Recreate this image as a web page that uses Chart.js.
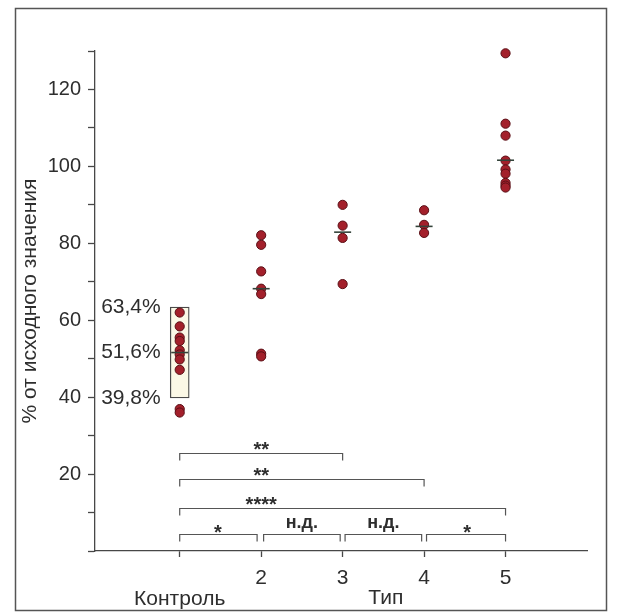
<!DOCTYPE html>
<html>
<head>
<meta charset="utf-8">
<script src="https://cdn.jsdelivr.net/npm/chart.js@4"></script>
<style>
  html, body { margin: 0; padding: 0; background: #fff; }
</style>
</head>
<body>
<canvas id="chart" width="621" height="612"></canvas>
<script>
// group positions and measured values (% of initial value)
const groupX = [1, 2, 3, 4, 5]
const control = [62.0, 58.4, 55.5, 54.6, 52.2, 51.1, 49.8, 47.1, 36.9, 36.0]
const type2 = [82.1, 79.6, 72.7, 68.2, 66.8, 51.3, 50.6]
const type3 = [90.0, 84.6, 81.4, 69.4]
const type4 = [88.6, 84.8, 82.7]
const type5 = [129.4, 111.1, 108.0, 101.5, 99.2, 98.1, 95.7, 95.0, 94.5]
const medians = [51.6, 68.2, 82.9, 84.4, 101.6]

// control range box and its labels
const controlBox = [39.8, 63.4]
const boxLabels = ['63,4%', '51,6%', '39,8%']
const boxLabelValues = [63.4, 51.6, 39.8]

const xTickValues = [1, 2, 3, 4, 5]
const xTickLabels = [['', 'Контроль'], '2', '3', '4', '5']
const yTickLabels = [20, 40, 60, 80, 100, 120]
const xTitle = 'Тип'
const xTitleAt = 3.53

// significance brackets
const bracketFrom = [1, 1, 1, 1, 2.03, 3.03, 4.03]
const bracketTo = [3, 4, 5, 1.95, 2.97, 3.97, 5]
const bracketLevel = [25.5, 18.6, 11.1, 4.4, 4.4, 4.4, 4.4]
const bracketText = ['**', '**', '****', '*', 'н.д.', 'н.д.', '*']
const bracketTextX = [2, 2, 2, 1.47, 2.5, 3.5, 4.53]

const font = '"Liberation Sans", Arial, sans-serif'
const ink = '#2e2e2e'
const lineCol = '#474747'

Chart.defaults.font.family = font

const groups = [control, type2, type3, type4, type5]
const points = []
groups.forEach((vals, i) => {
    for (let v of vals) points.push({x: groupX[i], y: v})
})

const extras = {
    id: 'extras',
    afterDatasetsDraw(chart) {
        const ctx = chart.ctx
        const x = chart.scales.x
        const y = chart.scales.y
        ctx.save()

        // labels left of the control box
        ctx.fillStyle = ink
        ctx.font = '21px ' + font
        ctx.textAlign = 'right'
        ctx.textBaseline = 'middle'
        const lx = x.getPixelForValue(1) - 19
        boxLabels.forEach((t, i) => ctx.fillText(t, lx, y.getPixelForValue(boxLabelValues[i])))

        // brackets
        ctx.strokeStyle = '#555'
        ctx.lineWidth = 1.2
        ctx.textAlign = 'center'
        ctx.textBaseline = 'alphabetic'
        for (let i = 0; i < bracketFrom.length; i++) {
            const x0 = x.getPixelForValue(bracketFrom[i])
            const x1 = x.getPixelForValue(bracketTo[i])
            const yy = Math.round(y.getPixelForValue(bracketLevel[i])) + 0.5
            ctx.beginPath()
            ctx.moveTo(x0, yy + 7)
            ctx.lineTo(x0, yy)
            ctx.lineTo(x1, yy)
            ctx.lineTo(x1, yy + 7)
            ctx.stroke()
            const tx = x.getPixelForValue(bracketTextX[i])
            if (bracketText[i].includes('*')) {
                ctx.font = 'bold 20px ' + font
                ctx.fillText(bracketText[i], tx, yy + (i < 3 ? 2 : 4))
            } else {
                ctx.font = 'bold 18px ' + font
                ctx.fillText(bracketText[i], tx, yy - 7)
            }
        }

        // axis title
        ctx.font = '21px ' + font
        ctx.textBaseline = 'middle'
        ctx.fillText(xTitle, x.getPixelForValue(xTitleAt), chart.chartArea.bottom + 47)

        // frame
        ctx.strokeStyle = '#555'
        ctx.lineWidth = 1.5
        ctx.strokeRect(15.5, 8.5, 591, 602)
        ctx.restore()
    }
}

new Chart('chart', {
    type: 'scatter',
    data: {
        datasets: [
            {
                label: 'median',
                data: medians.map((m, i) => ({x: groupX[i], y: m})),
                pointStyle: 'line',
                pointRadius: 8.5,
                pointBorderColor: '#34433a',
                pointBorderWidth: 1.6,
                order: 0,
                clip: false
            },
            {
                label: 'values',
                data: points,
                pointRadius: 4.6,
                pointBackgroundColor: '#a3202b',
                pointBorderColor: '#5a0f16',
                pointBorderWidth: 1,
                order: 1,
                clip: false
            },
            {
                type: 'bar',
                label: 'control range',
                data: [{x: 1, y: controlBox}],
                barThickness: 19,
                backgroundColor: '#fbf8e6',
                borderColor: '#4a4a4a',
                borderWidth: 1.3,
                borderSkipped: false,
                order: 2
            }
        ]
    },
    options: {
        responsive: false,
        animation: false,
        layout: {padding: {top: 51, right: 34, left: 0, bottom: 0}},
        plugins: {legend: {display: false}, tooltip: {enabled: false}},
        scales: {
            x: {
                type: 'linear', min: -0.04, max: 6, offset: false,
                afterFit: s => { s.height = 61 },
                afterBuildTicks: s => { s.ticks = xTickValues.map(v => ({value: v})) },
                grid: {drawOnChartArea: false, tickLength: 6, tickColor: lineCol, tickWidth: 1.3, offset: false},
                border: {color: lineCol, width: 1.3},
                ticks: {
                    autoSkip: false, maxRotation: 0, padding: 11, color: ink,
                    font: {size: 21, lineHeight: 1},
                    callback: v => xTickLabels[xTickValues.indexOf(v)]
                }
            },
            y: {
                type: 'linear', min: 0, max: 130,
                afterFit: s => { s.width = 95 },
                grid: {drawOnChartArea: false, tickLength: 7, tickColor: lineCol, tickWidth: 1.3},
                border: {color: lineCol, width: 1.3},
                ticks: {
                    stepSize: 10, autoSkip: false, padding: 7, color: ink,
                    font: {size: 20},
                    callback: v => yTickLabels.includes(v) ? v : ''
                },
                title: {
                    display: true, text: '% от исходного значения', color: ink,
                    font: {size: 21}, padding: {top: 18, bottom: 0}
                }
            }
        }
    },
    plugins: [extras]
})
</script>
</body>
</html>
